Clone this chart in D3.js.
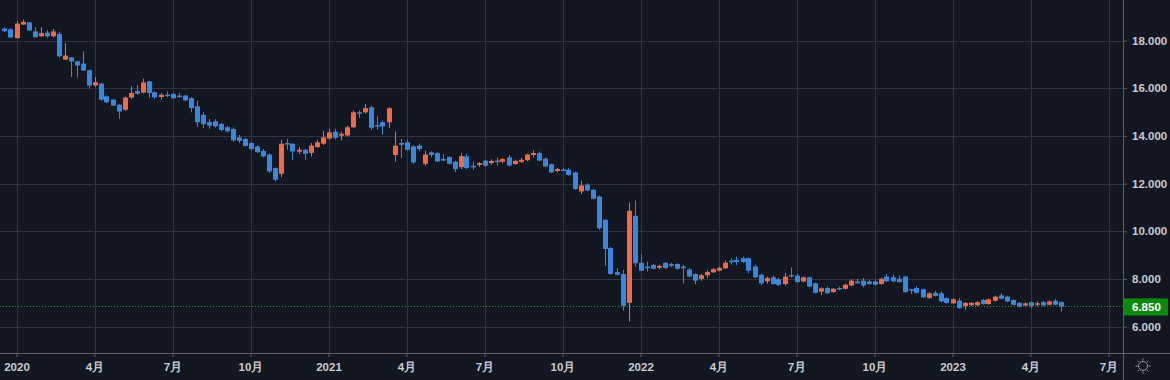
<!DOCTYPE html>
<html><head><meta charset="utf-8">
<script src="https://cdn.jsdelivr.net/npm/d3@7"></script>
<style>html,body{margin:0;padding:0;background:#131722;}svg{display:block;}</style>
</head><body><svg id="c" width="1170" height="380"></svg>
<script>
// weekly bars, first bar week of 2019-12-22
const firstBar = "2019-12-22";
const opens = [
18.50,18.47,18.10,18.67,18.76,18.38,18.18,18.33,18.18,18.28,
17.20,17.29,17.13,17.03,16.75,16.12,16.19,15.66,15.52,15.31,
15.10,15.61,15.88,15.82,16.29,15.83,15.63,15.73,15.76,15.69,
15.69,15.58,15.24,14.88,14.58,14.61,14.50,14.36,14.29,13.94,
13.87,13.70,13.56,13.37,13.22,12.65,12.41,13.70,13.67,13.34,
13.42,13.29,13.53,13.67,13.89,14.18,14.01,14.02,14.36,14.99,
14.99,15.20,14.45,14.57,14.57,13.20,13.70,13.73,13.56,13.59,
12.83,13.31,13.28,13.03,13.11,12.92,12.69,13.14,12.75,12.78,
12.96,12.86,12.97,12.92,13.10,12.82,12.91,12.98,13.20,13.28,
13.05,12.81,12.53,12.59,12.58,12.47,11.67,11.96,11.74,11.46,
10.48,9.30,8.29,8.21,7.00,10.65,8.68,8.52,8.59,8.47,
8.68,8.62,8.63,8.52,8.40,8.21,8.01,8.16,8.28,8.35,
8.45,8.77,8.80,8.87,8.87,8.52,8.18,7.90,8.07,7.99,
7.79,8.17,8.14,7.90,8.07,7.82,7.47,7.62,7.45,7.62,
7.59,7.73,7.90,7.93,7.90,7.90,7.79,8.10,8.07,8.01,
8.10,7.57,7.62,7.57,7.20,7.42,7.40,7.20,6.98,7.09,
6.87,6.90,6.90,7.12,6.95,7.09,7.31,7.26,7.12,7.00,
6.89,7.03,6.92,7.03,6.92,7.09,7.03];
const highs = [
18.55,18.52,18.83,18.87,18.78,18.55,18.56,18.43,18.48,18.37,
17.89,17.31,17.15,17.55,16.78,16.47,16.22,15.70,15.55,15.33,
15.65,16.07,16.14,16.40,16.31,15.86,15.80,15.86,15.80,15.80,
15.72,15.62,15.48,15.00,14.70,14.70,14.55,14.42,14.35,14.04,
13.92,13.73,13.60,13.45,13.27,12.68,13.84,13.87,13.70,13.53,
13.46,13.70,13.84,14.21,14.30,14.30,14.18,14.43,15.06,15.07,
15.33,15.27,14.82,14.65,15.21,14.18,13.88,13.84,13.60,13.68,
13.38,13.35,13.32,13.22,13.15,12.96,13.28,13.25,12.93,12.90,
13.00,13.02,13.11,13.08,13.20,13.00,13.08,13.26,13.39,13.34,
13.10,12.84,12.66,12.66,12.66,12.50,12.12,12.02,11.78,11.50,
10.52,9.35,8.45,8.38,11.21,11.29,9.05,8.73,8.63,8.60,
8.71,8.68,8.66,8.60,8.45,8.24,8.21,8.36,8.47,8.52,
8.77,8.87,8.94,8.94,8.90,8.60,8.22,8.10,8.13,8.05,
8.26,8.49,8.22,8.10,8.10,7.85,7.65,7.68,7.62,7.68,
7.80,7.99,8.00,8.04,7.98,7.97,8.05,8.21,8.18,8.15,
8.13,7.59,7.70,7.60,7.45,7.50,7.48,7.23,7.20,7.20,
7.03,7.03,7.06,7.16,7.18,7.30,7.40,7.30,7.15,7.03,
7.01,7.06,7.06,7.08,7.09,7.16,7.06];
const lows = [
18.36,18.10,18.08,18.65,18.40,18.13,18.15,18.12,18.14,17.29,
17.18,16.47,16.45,16.72,16.01,16.05,15.48,15.38,15.25,14.72,
15.05,15.55,15.72,15.78,15.59,15.55,15.52,15.62,15.55,15.60,
15.45,14.99,14.37,14.33,14.30,14.35,14.20,14.14,13.75,13.70,
13.55,13.37,13.28,13.10,12.45,12.09,12.27,13.42,13.00,13.24,
13.00,13.14,13.50,13.62,13.84,13.84,13.81,13.98,14.33,14.76,
14.93,14.25,14.26,14.05,14.33,12.93,13.07,13.38,12.83,13.35,
12.75,13.10,12.90,12.95,12.80,12.48,12.61,12.60,12.58,12.70,
12.70,12.80,12.75,12.85,12.72,12.80,12.86,12.94,13.10,12.94,
12.68,12.44,12.47,12.53,12.33,11.74,11.56,11.68,11.33,10.06,
8.55,8.18,8.15,6.67,6.21,8.52,8.33,8.31,8.40,8.42,
8.43,8.50,8.40,7.82,8.07,7.78,7.93,8.04,8.25,8.32,
8.42,8.60,8.58,8.68,8.24,8.04,7.74,7.80,7.76,7.70,
7.72,8.05,7.84,7.86,7.65,7.40,7.33,7.38,7.42,7.53,
7.56,7.70,7.80,7.65,7.76,7.73,7.76,7.87,7.87,7.84,
7.42,7.38,7.39,7.20,7.17,7.26,7.03,6.97,6.95,6.75,
6.72,6.87,6.87,6.92,6.92,7.06,7.14,7.03,6.89,6.81,
6.86,6.78,6.86,6.86,6.90,6.89,6.64];
const closes = [
18.39,18.13,18.71,18.78,18.42,18.14,18.31,18.18,18.38,17.34,
17.37,17.12,16.95,16.74,16.11,16.25,15.52,15.41,15.27,15.02,
15.61,15.80,15.77,16.24,15.80,15.62,15.72,15.70,15.58,15.66,
15.49,15.17,14.57,14.49,14.43,14.40,14.25,14.19,13.81,13.79,
13.58,13.45,13.32,13.14,12.51,12.16,13.67,13.64,13.35,13.42,
13.25,13.59,13.73,13.94,14.15,13.92,14.09,14.36,14.99,14.93,
15.16,14.34,14.40,14.40,15.16,13.59,13.63,13.42,12.89,13.45,
13.22,13.20,12.93,12.97,12.83,12.61,13.15,12.65,12.68,12.86,
12.75,12.95,12.90,13.03,12.76,12.95,13.00,13.22,13.28,12.97,
12.72,12.47,12.61,12.54,12.36,11.77,11.92,11.71,11.36,10.13,
9.26,8.21,8.18,6.88,10.86,8.66,8.35,8.45,8.43,8.55,
8.46,8.55,8.43,8.45,8.10,7.93,8.16,8.29,8.41,8.47,
8.68,8.70,8.71,8.71,8.35,8.07,7.82,8.04,7.79,7.75,
8.10,8.11,7.87,8.07,7.68,7.42,7.61,7.40,7.59,7.57,
7.76,7.93,7.82,7.73,7.79,7.76,8.01,7.90,7.90,7.87,
7.45,7.54,7.42,7.23,7.40,7.29,7.06,7.00,7.15,6.78,
7.00,7.00,7.03,6.95,7.15,7.26,7.17,7.06,6.92,6.84,
6.98,6.87,6.98,6.89,7.06,6.92,6.85];
const yTicks = [6, 8, 10, 12, 14, 16, 18];
const monthLabels = ["", "", "", "4月", "", "", "7月", "", "", "10月", "", ""];
const lastPrice = 6.85;

const W = 1170, H = 380, plotR = 1123, plotB = 353;
const upColor = "#f06b45", downColor = "#3a88dd";
const svg = d3.select("#c");
svg.append("rect").attr("width", W).attr("height", H).attr("fill", "#131722");

const start = new Date(firstBar + "T00:00:00Z");
const dates = opens.map((_, i) => d3.utcDay.offset(start, 7 * i));
const bars = dates.map((d, i) => ({date: d, o: opens[i], h: highs[i], l: lows[i], c: closes[i]}));

const x = d3.scaleUtc()
  .domain([new Date(Date.UTC(2020, 0, 5)), new Date(Date.UTC(2023, 6, 2))])
  .range([16.5, 1108.5]);
const y = d3.scaleLinear().domain([6, 18]).range([326.7, 40.5]);

// tick dates: first weekly bar of each quarter month (bar calendar extended into future)
const barCal = d3.utcDay.range(start, new Date(Date.UTC(2023, 7, 1)), 7);
const tickDates = barCal.filter((d, i) => i > 0 && d.getUTCMonth() % 3 === 0 && barCal[i - 1].getUTCMonth() !== d.getUTCMonth());

const clip = svg.append("defs").append("clipPath").attr("id", "pc");
clip.append("rect").attr("x", 0).attr("y", 0).attr("width", plotR).attr("height", plotB);

const grid = svg.append("g").attr("stroke", "#30343f").attr("stroke-width", 1);
grid.selectAll("line.h").data(yTicks).join("line")
  .attr("x1", 0).attr("x2", plotR)
  .attr("y1", d => Math.round(y(d)) + 0.5).attr("y2", d => Math.round(y(d)) + 0.5);
grid.selectAll("line.v").data(tickDates).join("line")
  .attr("y1", 0).attr("y2", plotB)
  .attr("x1", d => Math.round(x(d)) + 0.5).attr("x2", d => Math.round(x(d)) + 0.5);

// price line
svg.append("line").attr("x1", 0).attr("x2", plotR)
  .attr("y1", Math.round(y(lastPrice)) + 0.5).attr("y2", Math.round(y(lastPrice)) + 0.5)
  .attr("stroke", "#1f9a3a").attr("stroke-width", 1).attr("stroke-dasharray", "1,2");

// candles
const g = svg.append("g").attr("clip-path", "url(#pc)");
const bw = 5;
const cg = g.selectAll("g.c").data(bars).join("g")
  .attr("fill", d => d.c >= d.o ? upColor : downColor);
cg.append("rect")
  .attr("x", d => Math.round(x(d.date)))
  .attr("width", 1)
  .attr("y", d => y(d.h))
  .attr("height", d => Math.max(1, y(d.l) - y(d.h)));
cg.append("rect")
  .attr("x", d => Math.round(x(d.date)) - 2)
  .attr("width", bw)
  .attr("y", d => y(Math.max(d.o, d.c)))
  .attr("height", d => Math.max(1.5, Math.abs(y(d.o) - y(d.c))));

// axes lines
svg.append("line").attr("x1", plotR + 0.5).attr("x2", plotR + 0.5).attr("y1", 0).attr("y2", H)
  .attr("stroke", "#5d606b");
svg.append("line").attr("x1", 0).attr("x2", W).attr("y1", plotB + 0.5).attr("y2", plotB + 0.5)
  .attr("stroke", "#5d606b");

// right axis
const yAxis = d3.axisRight(y).tickValues(yTicks).tickFormat(d3.format(".3f")).tickSize(4).tickPadding(5);
const ya = svg.append("g").attr("transform", `translate(${plotR},0)`).call(yAxis);
ya.select(".domain").remove();
ya.selectAll(".tick line").attr("stroke", "#5d606b");
ya.selectAll(".tick text").attr("fill", "#c9ccd4").attr("font-family", "Liberation Sans, Arial, sans-serif")
  .attr("font-size", 11.5).attr("font-weight", "bold");

// bottom axis
const xAxis = d3.axisBottom(x).tickValues(tickDates).tickSize(4).tickPadding(6)
  .tickFormat(d => d.getUTCMonth() === 0 ? String(d.getUTCFullYear()) : monthLabels[d.getUTCMonth()]);
const xa = svg.append("g").attr("transform", `translate(0,${plotB})`).call(xAxis);
xa.select(".domain").remove();
xa.selectAll(".tick line").attr("stroke", "#5d606b");
xa.selectAll(".tick text").attr("fill", "#c9ccd4").attr("font-family", "Liberation Sans, Arial, sans-serif")
  .attr("font-size", 11.5).attr("font-weight", "bold");

// last price label
const ly = y(lastPrice);
svg.append("rect").attr("x", plotR + 1).attr("y", ly - 8).attr("width", 44).attr("height", 17).attr("fill", "#0c8a0c");
svg.append("text").attr("x", plotR + 9).attr("y", ly + 4.5).attr("fill", "#ffffff")
  .attr("font-family", "Liberation Sans, Arial, sans-serif").attr("font-size", 11.5).attr("font-weight", "bold")
  .text(d3.format(".3f")(lastPrice));

// settings (sun) icon
const ic = svg.append("g").attr("transform", "translate(1143,366)").attr("stroke", "#9598a1").attr("fill", "none");
ic.append("circle").attr("r", 4.5);
d3.range(8).forEach(k => {
  const a = k * Math.PI / 4;
  ic.append("line").attr("x1", Math.cos(a) * 5.5).attr("y1", Math.sin(a) * 5.5)
    .attr("x2", Math.cos(a) * 7.5).attr("y2", Math.sin(a) * 7.5);
});
</script></body></html>
